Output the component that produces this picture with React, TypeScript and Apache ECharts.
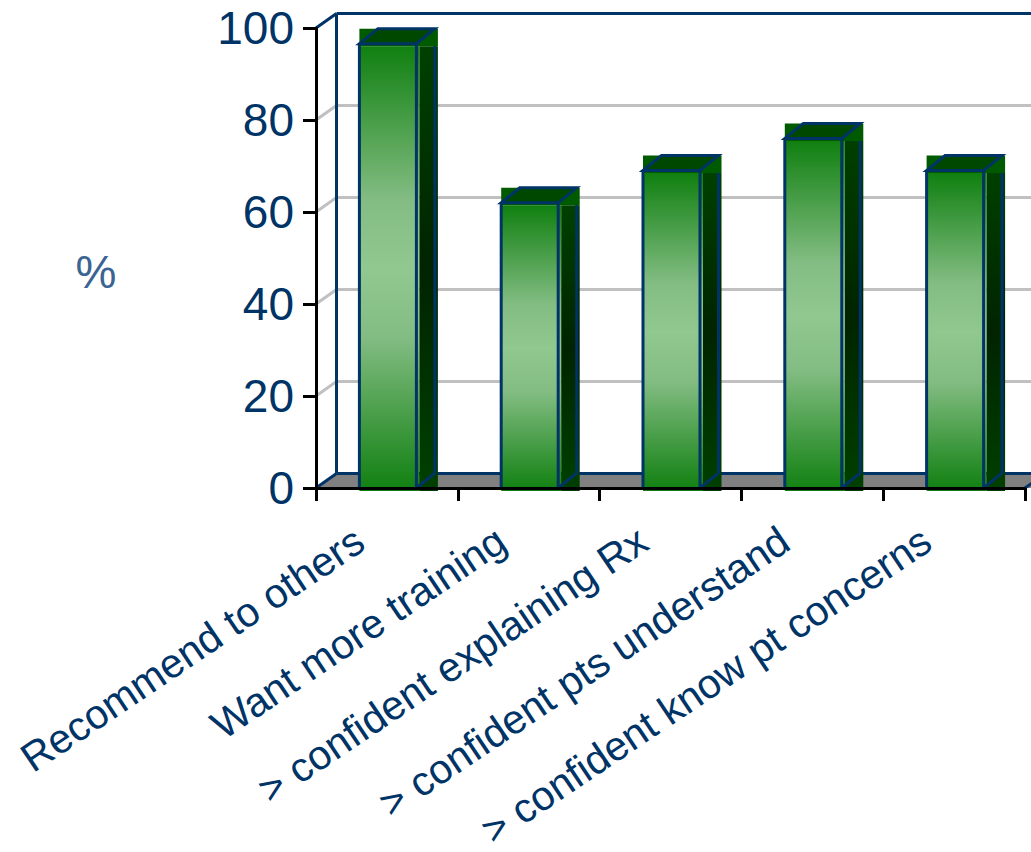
import React, { useEffect, useRef } from "react";
import * as echarts from "echarts";

const categories = [
  "Recommend to others",
  "Want more training",
  "> confident explaining Rx",
  "> confident pts understand",
  "> confident know pt concerns",
];
const percentValues = [96.6, 62, 69, 76, 69];
const gridTicks = [20, 40, 60, 80, 100];
const unitLabel = "%";

const NAVY = "#003366";
const FONT = '"Liberation Sans", Arial, sans-serif';
const DEPTH_X = 20.5;
const DEPTH_Y = 14.5;
const BAR_HALF = 28.5;
const BAR_DEPTH_X = 18.5;
const BAR_DEPTH_Y = 15;
const FILL_SHIFT = 3;

const vertical = (stops: [number, string][]) =>
  new echarts.graphic.LinearGradient(
    0,
    0,
    0,
    1,
    stops.map(([offset, color]) => ({ offset, color }))
  );

const segment = (x1: number, y1: number, x2: number, y2: number, stroke: string, lineWidth = 3) => ({
  type: "line",
  shape: { x1, y1, x2, y2 },
  style: { stroke, lineWidth, fill: "none" },
});

// Back wall, floor and the receding gridlines, placed through the value scale.
const renderWalls = (_: any, api: any) => {
  const band = api.size([1, 0])[0];
  const [firstCentre, y0] = api.coord([0, 0]);
  const x0 = firstCentre - band / 2;
  const right = x0 + band * categories.length;
  const [, yTop] = api.coord([0, 100]);
  const far = 1100;
  const children: any[] = [
    {
      type: "polygon",
      shape: {
        points: [
          [x0, y0],
          [x0 + DEPTH_X, y0 - DEPTH_Y],
          [far, y0 - DEPTH_Y],
          [far, y0],
        ],
      },
      style: { fill: "#808080" },
    },
  ];
  gridTicks.slice(0, -1).forEach((tick) => {
    const [, y] = api.coord([0, tick]);
    children.push(segment(x0, y, x0 + DEPTH_X, y - DEPTH_Y, "#c0c0c0"));
    children.push(segment(x0 + DEPTH_X, y - DEPTH_Y, far, y - DEPTH_Y, "#c0c0c0"));
  });
  children.push(segment(x0, y0, x0 + DEPTH_X, y0 - DEPTH_Y, NAVY));
  children.push(segment(x0 + DEPTH_X, y0 - DEPTH_Y, far, y0 - DEPTH_Y, NAVY));
  children.push(segment(x0 + DEPTH_X, y0 - DEPTH_Y, x0 + DEPTH_X, yTop - DEPTH_Y, NAVY));
  children.push(segment(x0, yTop, x0 + DEPTH_X, yTop - DEPTH_Y, NAVY));
  children.push(segment(x0 + DEPTH_X, yTop - DEPTH_Y, far, yTop - DEPTH_Y, NAVY));
  children.push(segment(right, y0, right + DEPTH_X, y0 - DEPTH_Y, NAVY));
  return { type: "group", children };
};

// One extruded column: gradient front, dark side, dark cap and navy edges.
const renderBar = (_: any, api: any) => {
  const [centre, yTop] = api.coord([api.value(0), api.value(1)]);
  const [, yBase] = api.coord([api.value(0), 0]);
  const cx = centre + 1;
  const left = cx - BAR_HALF;
  const right = cx + BAR_HALF;
  const fillRight = right + FILL_SHIFT;
  const fillTop = yTop + FILL_SHIFT - 0.5;
  const fillBottom = yBase + FILL_SHIFT;
  const backRight = right + BAR_DEPTH_X;
  const backTop = yTop - BAR_DEPTH_Y;
  return {
    type: "group",
    children: [
      {
        type: "rect",
        shape: { x: left, y: fillTop, width: fillRight - left, height: fillBottom - fillTop },
        style: {
          fill: vertical([
            [0, "#108010"],
            [0.35, "#84bd84"],
            [0.5, "#90c890"],
            [0.65, "#84bd84"],
            [1, "#108010"],
          ]),
        },
      },
      {
        type: "rect",
        shape: { x: fillRight, y: fillTop, width: BAR_DEPTH_X, height: fillBottom - fillTop },
        style: {
          fill: vertical([
            [0, "#004000"],
            [0.5, "#002400"],
            [1, "#004000"],
          ]),
        },
      },
      segment(backRight, yTop, backRight, yBase - BAR_DEPTH_Y, NAVY),
      segment(right, yBase, backRight, yBase - BAR_DEPTH_Y, NAVY),
      {
        type: "rect",
        shape: { x: left, y: backTop, width: fillRight - left + BAR_DEPTH_X, height: fillTop - backTop },
        style: { fill: "#005a00" },
      },
      {
        type: "polygon",
        shape: {
          points: [
            [left, yTop],
            [right, yTop],
            [backRight, backTop],
            [left + BAR_DEPTH_X, backTop],
          ],
        },
        style: { fill: "#004800", stroke: NAVY, lineWidth: 3, lineJoin: "miter" },
      },
      segment(left, yTop, left, yBase, NAVY),
      segment(right, yTop, right, yBase, NAVY),
    ],
  };
};

export default function App() {
  const ref = useRef<HTMLDivElement>(null);

  useEffect(() => {
    document.body.style.margin = "0";
    const chart = echarts.init(ref.current!, null, { renderer: "svg" });
    chart.setOption({
      animation: false,
      backgroundColor: "#ffffff",
      textStyle: { fontFamily: FONT },
      grid: { left: 316, top: 28, width: 709, height: 460, containLabel: false, outerBoundsMode: "none" },
      graphic: [
        {
          type: "text",
          x: 96,
          y: 272,
          style: {
            text: unitLabel,
            fill: "#3a6491",
            font: `46px ${FONT}`,
            textAlign: "center",
            textVerticalAlign: "middle",
          },
        },
      ],
      xAxis: {
        type: "category",
        data: categories,
        boundaryGap: true,
        z: 20,
        axisLine: { show: true, lineStyle: { color: "#000000", width: 3 } },
        axisTick: { show: true, length: 13, alignWithLabel: false, lineStyle: { color: "#000000", width: 3 } },
        axisLabel: {
          interval: 0,
          rotate: 34,
          margin: 30,
          padding: [0, 33, 0, 0],
          color: NAVY,
          fontFamily: FONT,
          fontSize: 41,
          hideOverlap: false,
        },
        splitLine: { show: false },
      },
      yAxis: {
        type: "value",
        min: 0,
        max: 100,
        interval: 20,
        z: 20,
        axisLine: { show: true, lineStyle: { color: "#000000", width: 3 } },
        axisTick: { show: true, length: 13, lineStyle: { color: "#000000", width: 3 } },
        axisLabel: { margin: 22, padding: [0, 0, 3, 0], color: NAVY, fontFamily: FONT, fontSize: 46 },
        splitLine: { show: false },
      },
      series: [
        {
          type: "custom",
          z: 1,
          clip: false,
          silent: true,
          renderItem: renderWalls,
          data: [[0, 0]],
          encode: { x: 0, y: 1 },
        },
        {
          type: "custom",
          z: 2,
          clip: false,
          renderItem: renderBar,
          data: categories.map((_, i) => [i, percentValues[i]]),
          encode: { x: 0, y: 1 },
        },
      ],
    });
    return () => chart.dispose();
  }, []);

  return <div ref={ref} style={{ position: "absolute", left: 0, top: 0, width: 1031, height: 852 }} />;
}
